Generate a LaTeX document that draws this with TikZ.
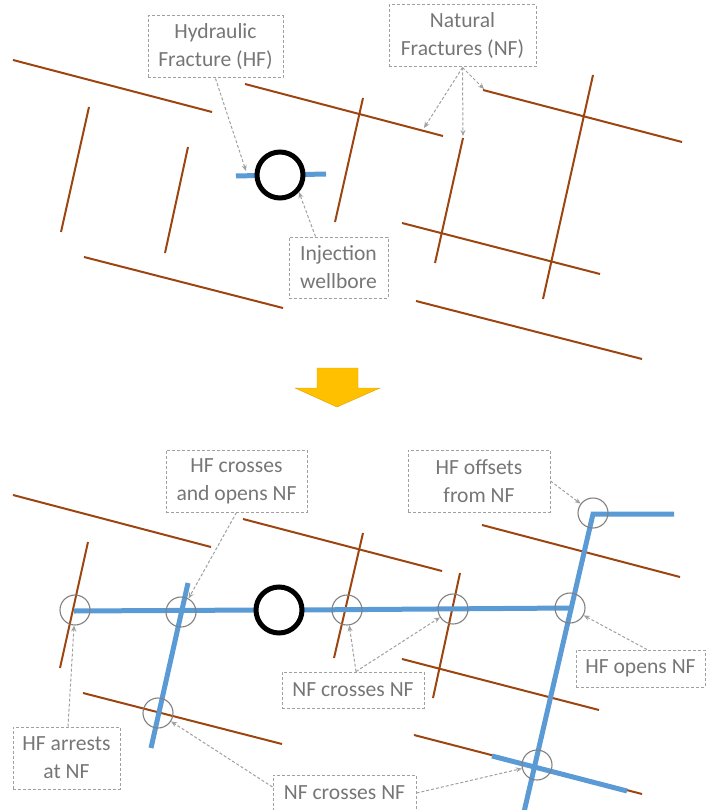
\documentclass[tikz,border=0pt]{standalone}
\usepackage{fontspec}
\setmainfont{Carlito}
\usetikzlibrary{arrows.meta}
\definecolor{nfbrown}{HTML}{9C4510}
\definecolor{hfblue}{HTML}{5B9BD5}
\definecolor{lblgray}{HTML}{767676}
\definecolor{boxgray}{HTML}{A0A0A0}
\definecolor{arrowgold}{HTML}{FFC000}
\tikzset{
  nf/.style={draw=nfbrown, line width=2pt},
  hf/.style={draw=hfblue, line width=5pt},
  well/.style={circle, draw=black, line width=5pt, fill=white, minimum size=46pt, inner sep=0pt},
  ring/.style={circle, draw=gray, line width=1.1pt, minimum size=30pt, inner sep=0pt},
  lbl/.style={draw=boxgray, dash pattern=on 3pt off 2pt, line width=1pt, text=lblgray, align=center,
              font=\fontsize{21.6}{28}\selectfont, inner sep=0pt},
  callout/.style={draw=boxgray, dash pattern=on 3pt off 2pt, line width=1pt,
              -{Stealth[length=6pt,width=5pt,fill=gray!90]}},
}
\begin{document}
\begin{tikzpicture}[x=1pt,y=-1pt]
\useasboundingbox (0,0) rectangle (707,810);

% ---------------- top panel ----------------
\draw[nf] (13,60) -- (212,112);
\draw[nf] (245,84) -- (443,136);
\draw[nf] (89,107) -- (61,232);
\draw[nf] (188,147) -- (165,253);
\draw[nf] (84,257) -- (283,308);
\draw[nf] (363,98) -- (335,222);
\draw[nf] (483,90) -- (682,142);
\draw[nf] (593,75) -- (543,299);
\draw[nf] (463,138) -- (435,263);
\draw[nf] (402,223) -- (600,274);
\draw[nf] (416,301) -- (642,359);

\draw[hf] (236,176) -- (326,174);
\node[well] (w1) at (280,175) {};

\node[lbl, minimum width=135pt, minimum height=62pt] (hf1) at (215.5,47) {Hydraulic\\Fracture (HF)};
\node[lbl, minimum width=147pt, minimum height=62pt] (nf1) at (462.5,36) {Natural\\Fractures (NF)};
\node[lbl, minimum width=99pt, minimum height=61pt] (inj) at (338.5,267.5) {Injection\\wellbore};

\coordinate (hfend) at (246,171);
\coordinate (nfa) at (424,128);
\coordinate (nfb) at (463,136);
\coordinate (nfc) at (484,89);

\draw[callout] (hf1.south) -- (hfend);
\draw[callout] ([xshift=-23pt]inj.north) -- (w1.-42);
\draw[callout] (nf1.south) -- (nfa);
\draw[callout] (nf1.south) -- (nfb);
\draw[callout] (nf1.south) -- (nfc);

% ---------------- arrow ----------------
\fill[arrowgold, draw=arrowgold!85!black, line width=0.4pt]
  (317,368) -- (358,368) -- (358,388) -- (380,388) -- (337,407) -- (295,388) -- (317,388) -- cycle;

% ---------------- bottom panel ----------------
\draw[nf] (13,495) -- (211,547);
\draw[nf] (243,519) -- (442,571);
\draw[nf] (88,542) -- (60,668);
\draw[nf] (83,693) -- (282,744);
\draw[nf] (363,533) -- (334,658);
\draw[nf] (482,525) -- (680,577);
\draw[nf] (460,573) -- (433,698);
\draw[nf] (402,659) -- (599,710);
\draw[nf] (414,735) -- (642,794);

\draw[hf] (74,611) -- (260,610);
\draw[hf] (300,610) -- (570,608);
\draw[hf] (188,583) -- (151,748);
\draw[hf] (674,514) -- (593,514) -- (524,812);
\draw[hf] (492,756) -- (627,791);

\node[well] (w2) at (279,610) {};

\node[ring] (c1) at (75,610) {};
\node[ring] (c2) at (181,612) {};
\node[ring] (c3) at (158,713) {};
\node[ring] (c4) at (347,610) {};
\node[ring] (c5) at (453,609) {};
\node[ring] (c7) at (570,608) {};
\node[ring] (c8) at (593,513) {};
\node[ring] (c9) at (537,765) {};

\node[lbl, minimum width=141pt, minimum height=62pt] (hfc) at (236.5,481) {HF crosses\\and opens NF};
\node[lbl, minimum width=107pt, minimum height=62pt] (hfa) at (66.5,758) {HF arrests\\at NF};
\node[lbl, minimum width=142pt, minimum height=36pt] (nfm) at (353,690) {NF crosses NF};
\node[lbl, minimum width=143pt, minimum height=36pt] (nfx) at (344.5,793) {NF crosses NF};
\node[lbl, minimum width=142pt, minimum height=62pt] (hfo) at (479,481) {HF offsets\\from NF};
\node[lbl, minimum width=129pt, minimum height=37pt] (hfop) at (640.5,668.5) {HF opens NF};

\draw[callout] (hfc.south) -- (c2);
\draw[callout] ([xshift=1.5pt]hfa.north) -- (c1);
\draw[callout] ([xshift=3pt]nfm.north) -- (c4);
\draw[callout] ([xshift=3pt]nfm.north) -- (c5);
\draw[callout] ([yshift=6pt]nfx.west) -- (c3);
\draw[callout] (nfx.east) -- (c9);
\draw[callout] (hfo.east) -- (c8);
\draw[callout] ([xshift=6.5pt]hfop.north) -- (c7);
\end{tikzpicture}
\end{document}
